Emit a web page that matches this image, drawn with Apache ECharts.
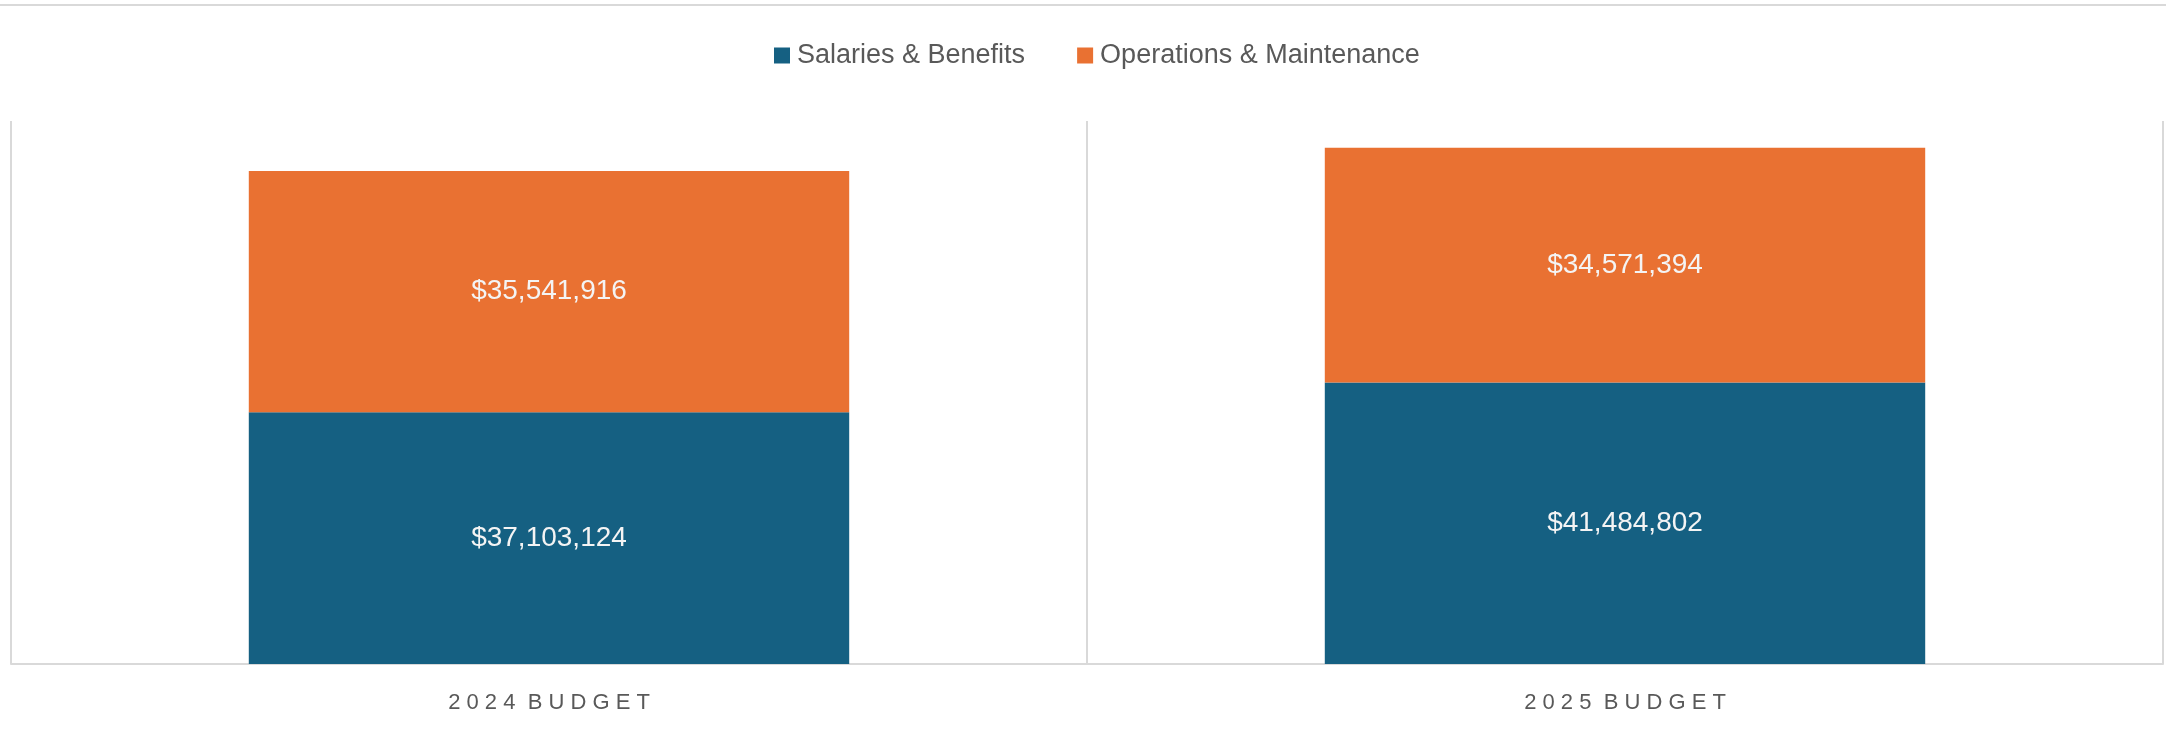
<!DOCTYPE html>
<html>
<head>
<meta charset="utf-8">
<title>Budget comparison</title>
<script src="https://cdn.jsdelivr.net/npm/echarts@6/dist/echarts.min.js"></script>
<style>
  html, body { margin: 0; padding: 0; background: #fff; }
  #chart { width: 2166px; height: 733px; }
</style>
</head>
<body>
<div id="chart"></div>
<script>
// categories and series values
const categories = ['2024 BUDGET', '2025 BUDGET']
const salaries = [37103124, 41484802]
const operations = [35541916, 34571394]
const seriesNames = ['Salaries & Benefits', 'Operations & Maintenance']

const chart = echarts.init(document.getElementById('chart'))

// $37,103,124
const money = v => '$' + Number(v).toLocaleString('en-US')

// spread letters out like the reference axis labels
const spaced = s => s.split(' ').map(w => w.split('').join(' ')).join('  ')

const barLabel = {
  show: true,
  position: 'inside',
  color: '#f4f4f4',
  fontSize: 28,
  fontFamily: 'Liberation Sans',
  formatter: p => money(p.value)
}

const option = {
  backgroundColor: '#ffffff',
  animation: false,
  // chart border, only the top edge shows
  graphic: [
    {
      type: 'rect',
      left: 0,
      top: 4,
      shape: { width: 2166, height: 2 },
      style: { fill: '#d9d9d9' },
      silent: true
    }
  ],
  legend: {
    top: 37,
    left: 769,
    itemWidth: 16,
    itemHeight: 16,
    itemGap: 52,
    icon: 'rect',
    textStyle: {
      color: '#595959',
      fontSize: 27,
      fontFamily: 'Liberation Sans',
      padding: [0, 0, 0, 2]
    },
    data: seriesNames
  },
  grid: {
    left: 11,
    right: 3,
    top: 121,
    bottom: 69
  },
  xAxis: {
    type: 'category',
    data: categories,
    axisLine: { show: true, lineStyle: { color: '#d9d9d9', width: 2 } },
    axisTick: { show: false },
    splitLine: { show: true, lineStyle: { color: '#d9d9d9', width: 2 } },
    axisLabel: {
      color: '#595959',
      fontSize: 22,
      fontFamily: 'Liberation Sans',
      margin: 28,
      formatter: v => spaced(v)
    }
  },
  yAxis: {
    type: 'value',
    min: 0,
    max: 80000000,
    show: false,
    splitLine: { show: false }
  },
  series: [
    {
      name: seriesNames[0],
      type: 'bar',
      stack: 'budget',
      barWidth: '55.8%',
      data: salaries,
      itemStyle: { color: '#156082' },
      label: barLabel
    },
    {
      name: seriesNames[1],
      type: 'bar',
      stack: 'budget',
      barWidth: '55.8%',
      data: operations,
      itemStyle: { color: '#e97132' },
      label: barLabel
    }
  ]
}

chart.setOption(option)
</script>
</body>
</html>
